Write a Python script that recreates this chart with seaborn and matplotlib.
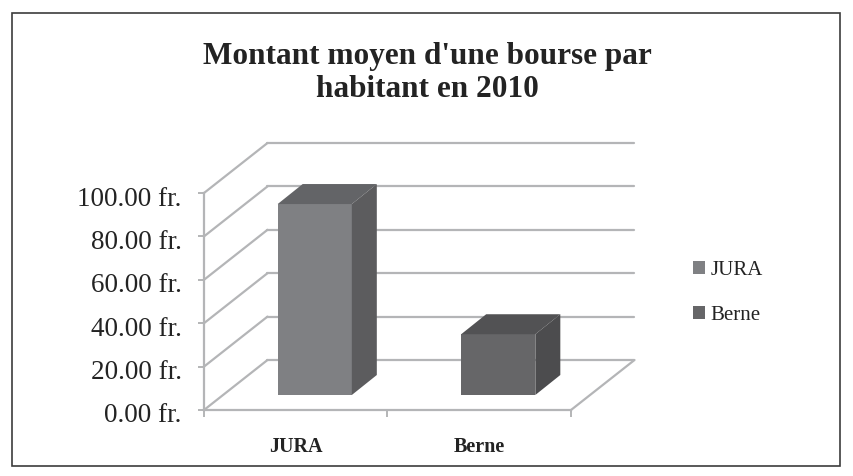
import matplotlib
matplotlib.use("Agg")
import matplotlib.pyplot as plt
import matplotlib.transforms as mtrans
from matplotlib.patches import Polygon, Rectangle
import seaborn as sns

# Data
categories = ["JURA", "Berne"]
values = [88, 28]
y_ticks = [0, 20, 40, 60, 80, 100]
y_labels = ["0.00 fr.", "20.00 fr.", "40.00 fr.", "60.00 fr.", "80.00 fr.", "100.00 fr."]
title = "Montant moyen d'une bourse par\nhabitant en 2010"

# Style
front_colors = ["#7f8083", "#666668"]
top_colors = ["#636467", "#525254"]
side_colors = ["#5c5c5e", "#4c4c4e"]
grid_color = "#b4b5b7"
text_color = "#232323"
W, H = 854, 476

sns.set_theme(style="white")
plt.rcParams["font.family"] = ["Liberation Serif", "DejaVu Serif"]

fig = plt.figure(figsize=(W / 100, H / 100), dpi=100, facecolor="white")
# axes = front plane of the pseudo-3D chart
L, R, T, B = 204, 571, 193, 410
ax = fig.add_axes([L / W, 1 - B / H, (R - L) / W, (B - T) / H])
ax.patch.set_alpha(0)

sns.barplot(x=categories, y=values, hue=categories, palette=front_colors,
            dodge=False, width=0.404, saturation=1, legend=False, ax=ax, zorder=3)
ax.set_xlim(-0.5, 1.5)
ax.set_ylim(0, 100)

# Depth of the scene and of the bars, in data units
x_per_px = 2 / (R - L)
y_per_px = 100 / (B - T)
wall_dx, wall_dy = 63.5 * x_per_px, 50 * y_per_px
bar_dx, bar_dy = 25 * x_per_px, 20 * y_per_px
shift_x, shift_y = 19 * x_per_px, 15 * y_per_px

x0, x1 = ax.get_xlim()
line_kw = dict(color=grid_color, lw=1.6, clip_on=False, solid_capstyle="round")
for v in y_ticks:
    ax.plot([x0, x0 + wall_dx], [v, v + wall_dy], zorder=1, **line_kw)
    ax.plot([x0 + wall_dx, x1 + wall_dx], [v + wall_dy, v + wall_dy], zorder=1, **line_kw)
ax.plot([x1, x1 + wall_dx], [0, wall_dy], zorder=1, **line_kw)

# Extrude the bars drawn by seaborn
bars = list(ax.patches)
for bar, top_c, side_c in zip(bars, top_colors, side_colors):
    bar.set_x(bar.get_x() + shift_x)
    bar.set_y(shift_y)
    bar.set_edgecolor("none")
    bx0, bx1 = bar.get_x(), bar.get_x() + bar.get_width()
    by0, by1 = bar.get_y(), bar.get_y() + bar.get_height()
    ax.add_patch(Polygon([(bx0, by1), (bx1, by1), (bx1 + bar_dx, by1 + bar_dy), (bx0 + bar_dx, by1 + bar_dy)],
                         closed=True, fc=top_c, ec="none", zorder=3, clip_on=False))
    ax.add_patch(Polygon([(bx1, by0), (bx1 + bar_dx, by0 + bar_dy), (bx1 + bar_dx, by1 + bar_dy), (bx1, by1)],
                         closed=True, fc=side_c, ec="none", zorder=3, clip_on=False))

# Axes
sns.despine(ax=ax, top=True, right=True)
for s in ("left", "bottom"):
    ax.spines[s].set_color(grid_color)
    ax.spines[s].set_linewidth(1.6)
ax.set_yticks(y_ticks, y_labels)
ax.tick_params(axis="y", length=4, width=1.4, color=grid_color, pad=12,
               labelsize=19.5, labelcolor=text_color, left=True)
ax.set_xticks(range(len(categories)), categories)
ax.set_xticks([-0.5, 0.5, 1.5], minor=True)
ax.tick_params(axis="x", which="major", length=0, pad=19.5, labelsize=14.5, labelcolor=text_color)
ax.tick_params(axis="x", which="minor", length=5, width=1.4, color=grid_color, bottom=True)
for lab in ax.get_xticklabels():
    lab.set_fontweight("bold")
offset = mtrans.ScaledTranslation(0, -3 / 100, fig.dpi_scale_trans)
for lab in ax.get_yticklabels():
    lab.set_transform(lab.get_transform() + offset)
ax.set_xlabel("")
ax.set_ylabel("")

# Title
fig.text(427 / W, 1 - 73 / H, title, ha="center", va="center", fontsize=22.5, fontweight="bold",
         color=text_color, linespacing=1.2)

# Legend
handles = [Rectangle((0, 0), 1, 1, fc=c, ec="none") for c in front_colors]
fig.legend(handles, categories, loc="center left", bbox_to_anchor=(693 / W, 1 - 293 / H),
           frameon=False, fontsize=15, labelcolor=text_color, handlelength=0.58, handleheight=0.58,
           handletextpad=0.27, labelspacing=1.25, borderpad=0, borderaxespad=0)

# Outer frame
fig.add_artist(Rectangle((12.5 / W, 1 - 465.5 / H), 827.5 / W, 452.5 / H, transform=fig.transFigure,
                         fc="none", ec="#3c3c3c", lw=1.2))

fig.savefig("out.png", dpi=100)
